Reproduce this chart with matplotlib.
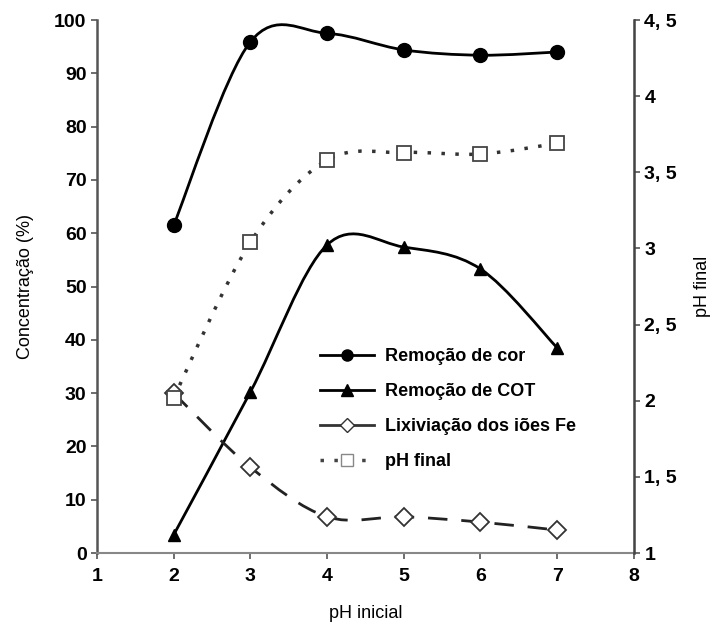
import numpy as np
import matplotlib.pyplot as plt
from matplotlib.path import Path
from matplotlib.patches import PathPatch
from matplotlib.lines import Line2D
from matplotlib.ticker import FuncFormatter

plt.rcParams['font.family'] = ['Liberation Sans', 'DejaVu Sans']

# data
ph_inicial = [2, 3, 4, 5, 6, 7]
remocao_cor = [61.5, 95.9, 97.5, 94.4, 93.4, 94.0]
remocao_cot = [3.4, 30.2, 57.8, 57.4, 53.3, 38.5]
lixiviacao_fe = [30.0, 16.1, 6.8, 6.8, 5.8, 4.3]
ph_final = [2.02, 3.04, 3.58, 3.63, 3.62, 3.69]

labels = ['Remoção de cor', 'Remoção de COT', 'Lixiviação dos iões Fe', 'pH final']


def smooth_path(xs, ys):
    # excel-like smoothed line: catmull-rom as cubic bezier segments
    pts = np.column_stack([xs, ys]).astype(float)
    n = len(pts)
    verts = [pts[0]]
    codes = [Path.MOVETO]
    for i in range(n - 1):
        p0 = pts[i - 1] if i > 0 else pts[i]
        p1 = pts[i]
        p2 = pts[i + 1]
        p3 = pts[i + 2] if i + 2 < n else pts[i + 1]
        c1 = p1 + (p2 - p0) / 6.0
        c2 = p2 - (p3 - p1) / 6.0
        verts += [c1, c2, p2]
        codes += [Path.CURVE4] * 3
    return Path(verts, codes)


fig = plt.figure(figsize=(7.13, 6.26), dpi=100)
ax = fig.add_axes([0.136, 0.1166, 0.753, 0.8514])
ax2 = ax.twinx()

# left axis series
ax.add_patch(PathPatch(smooth_path(ph_inicial, remocao_cor), fill=False, lw=2, color='black', zorder=2))
ax.plot(ph_inicial, remocao_cor, ls='none', marker='o', ms=10, color='black', zorder=3)

ax.add_patch(PathPatch(smooth_path(ph_inicial, remocao_cot), fill=False, lw=2, color='black', zorder=2))
ax.plot(ph_inicial, remocao_cot, ls='none', marker='^', ms=9, color='black', zorder=3)

ax.add_patch(PathPatch(smooth_path(ph_inicial, lixiviacao_fe), fill=False, lw=2, color='#222222',
                       linestyle=(0, (7, 5)), zorder=2))
ax.plot(ph_inicial, lixiviacao_fe, ls='none', marker='D', ms=9, mfc='white', mec='#333333', mew=1.3, zorder=3)

# right axis series
ax2.add_patch(PathPatch(smooth_path(ph_inicial, ph_final), fill=False, lw=2.5, color='#333333',
                        linestyle=(0, (1, 3)), zorder=2))
ax2.plot(ph_inicial, ph_final, ls='none', marker='s', ms=10, mfc='white', mec='#444444', mew=1.3, zorder=3)

ax.set_xlim(1, 8)
ax.set_ylim(0, 100)
ax2.set_ylim(1, 4.5)
ax.set_xticks(range(1, 9))
ax.set_yticks(range(0, 101, 10))
ax2.set_yticks(np.arange(1, 4.51, 0.5))
ax2.yaxis.set_major_formatter(FuncFormatter(lambda v, p: ('%g' % v).replace('.', ', ')))

for a in (ax, ax2):
    a.spines['top'].set_visible(False)
    a.tick_params(labelsize=14, width=1.2, length=4, color='#555555')
    for t in a.get_xticklabels() + a.get_yticklabels():
        t.set_fontweight('bold')
ax.spines['left'].set_color('#555555')
ax.spines['left'].set_linewidth(1.8)
ax.spines['bottom'].set_color('#888888')
ax.spines['bottom'].set_linewidth(1.5)
ax2.spines['right'].set_color('#444444')
ax2.spines['right'].set_linewidth(1.8)
ax2.spines['left'].set_visible(False)
ax2.spines['bottom'].set_visible(False)
ax.tick_params(axis='x', pad=7)

ax.set_xlabel('pH inicial', fontsize=13)
ax.set_ylabel('Concentração (%)', fontsize=13)
ax2.set_ylabel('pH final', fontsize=13)
ax.xaxis.set_label_coords(0.5, -0.098)
ax.yaxis.set_label_coords(-0.118, 0.5)
ax2.yaxis.set_label_coords(1.112, 0.5)

handles = [
    Line2D([], [], color='black', lw=2, marker='o', ms=8),
    Line2D([], [], color='black', lw=2, marker='^', ms=8),
    Line2D([], [], color='#333333', lw=2, marker='D', ms=7, mfc='white', mec='#333333'),
    Line2D([], [], color='#444444', lw=2.5, ls=(0, (1, 3)), marker='s', ms=8, mfc='white', mec='#888888'),
]
leg = ax2.legend(handles, labels, loc='upper left', bbox_to_anchor=(0.385, 0.415), frameon=False,
                 handlelength=3.0, labelspacing=1.0, handletextpad=0.6,
                 prop={'size': 13, 'weight': 'bold'})

fig.savefig('out.png', dpi=100)
